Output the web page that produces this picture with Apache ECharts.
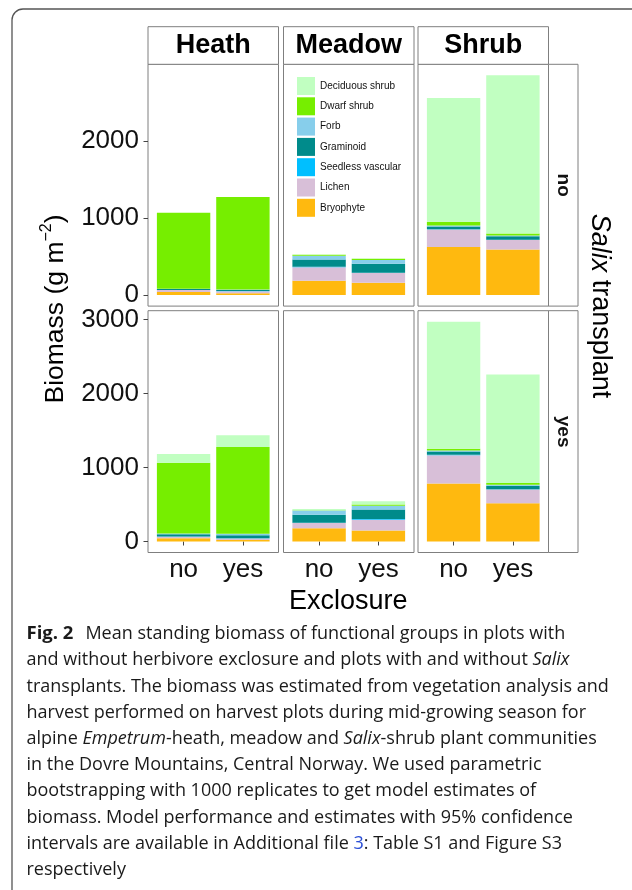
<!DOCTYPE html>
<html><head><meta charset="utf-8">
<script src="https://cdn.jsdelivr.net/npm/echarts@6/dist/echarts.min.js"></script>
<style>html,body{margin:0;padding:0;background:#fff}#c{width:632px;height:890px}</style>
</head><body><div id="c"></div>
<script>
// ---- data ----
const exclosure = ['no', 'yes'];
const communities = ['Heath', 'Meadow', 'Shrub'];
const transplant = ['no', 'yes'];
// stacking order, bottom to top
const groups = ['Bryophyte', 'Lichen', 'Seedless vascular', 'Graminoid', 'Forb', 'Dwarf shrub', 'Deciduous shrub'];
const legendOrder = ['Deciduous shrub', 'Dwarf shrub', 'Forb', 'Graminoid', 'Seedless vascular', 'Lichen', 'Bryophyte'];
// 12 bars: transplant no -> [Heath no, Heath yes, Meadow no, Meadow yes, Shrub no, Shrub yes], then transplant yes (same order)
const bryophyte       = [40, 25, 185, 160, 622, 592,   45, 22, 180, 149, 785, 518];
const lichen          = [25, 25, 177, 125, 229, 121,   18, 18, 70, 144, 383, 185];
const seedless        = [2, 2, 5, 5, 3, 3,             5, 5, 5, 13, 5, 5];
const graminoid       = [12, 15, 95, 117, 35, 48,      31, 41, 108, 126, 45, 45];
const forb            = [5, 5, 48, 48, 12, 10,         10, 18, 55, 50, 13, 15];
const dwarfShrub      = [985, 1198, 12, 15, 50, 26,    956, 1175, 5, 18, 23, 23];
const deciduousShrub  = [0, 0, 3, 5, 1605, 2049,       117, 158, 18, 45, 1719, 1469];
const yTicksRowNo  = [0, 1000, 2000];
const yTicksRowYes = [0, 1000, 2000, 3000];

const groupValues = [bryophyte, lichen, seedless, graminoid, forb, dwarfShrub, deciduousShrub];
const groupColors = ['#FFB90F', '#D8BFD8', '#00BFFF', '#008B8B', '#87CEEB', '#76EE00', '#C1FFC1'];

// ---- layout ----
const colLeft = [148, 283.5, 418];
const colWidth = 130.5;
const rowTop = [64.3, 310.7];
const rowHeight = 241.8;
const FONT = 'Liberation Sans';
const frameGrey = '#7f7f7f';

// row maxima -> ggplot-like 5% expansion
const rowMax = [0, 1].map(r => {
  let m = 0;
  for (let i = 0; i < 6; i++) {
    let s = 0;
    groupValues.forEach(a => { s += a[r * 6 + i]; });
    m = Math.max(m, s);
  }
  return m;
});

const grids = [], xAxes = [], yAxes = [], series = [];
for (let r = 0; r < 2; r++) {
  for (let c = 0; c < 3; c++) {
    const g = r * 3 + c;
    grids.push({ left: colLeft[c], top: rowTop[r], width: colWidth, height: rowHeight,
      show: true, borderColor: frameGrey, borderWidth: 1, backgroundColor: '#fff', containLabel: false });
    xAxes.push({
      type: 'value', gridIndex: g, min: 0.4, max: 2.6,
      axisLine: { show: false }, splitLine: { show: false },
      axisTick: { show: r === 1, customValues: [1, 2], length: 4, lineStyle: { color: '#444', width: 1 } },
      axisLabel: { show: r === 1, customValues: [1, 2], formatter: v => exclosure[Math.round(v) - 1],
        fontSize: 26, color: '#111', fontFamily: FONT, margin: 4 }
    });
    const ticks = r === 0 ? yTicksRowNo : yTicksRowYes;
    yAxes.push({
      type: 'value', gridIndex: g, min: -0.05 * rowMax[r], max: 1.05 * rowMax[r],
      axisLine: { show: false }, splitLine: { show: false },
      axisTick: { show: c === 0, customValues: ticks, length: 4.5, lineStyle: { color: '#444', width: 1 } },
      axisLabel: { show: c === 0, customValues: ticks, formatter: v => String(v),
        fontSize: 26, color: '#111', fontFamily: FONT, margin: 9 }
    });
    const barW = colWidth / 2.2 * 0.9;
    groups.forEach((name, k) => {
      const arr = groupValues[k];
      series.push({
        type: 'bar', name, xAxisIndex: g, yAxisIndex: g, stack: 'p' + g,
        barWidth: barW,
        encode: { x: 1, y: 0 },
        itemStyle: { color: groupColors[k] },
        emphasis: { disabled: true },
        data: [[arr[r * 6 + c * 2], 1], [arr[r * 6 + c * 2 + 1], 2]]
      });
    });
  }
}

const graphics = [];
// outer frame
graphics.push({ type: 'rect', shape: { x: 12, y: 9, width: 700, height: 1000, r: 11 },
  style: { fill: 'none', stroke: '#555', lineWidth: 1.3 }, z: 0, silent: true });
// strip headers
communities.forEach((name, c) => {
  graphics.push({ type: 'rect', shape: { x: colLeft[c], y: 26.7, width: colWidth, height: 37.6 },
    style: { fill: '#fff', stroke: frameGrey, lineWidth: 1 }, z: 10, silent: true });
  graphics.push({ type: 'text', x: colLeft[c] + colWidth / 2, y: 46, z: 11, silent: true,
    style: { text: name, fontSize: 27, fontWeight: 'bold', fontFamily: FONT, fill: '#000',
      align: 'center', verticalAlign: 'middle' } });
});
// right strips
transplant.forEach((name, r) => {
  graphics.push({ type: 'rect', shape: { x: 548.5, y: rowTop[r], width: 29.5, height: rowHeight },
    style: { fill: '#fff', stroke: frameGrey, lineWidth: 1 }, z: 10, silent: true });
  graphics.push({ type: 'text', x: 563.3, y: rowTop[r] + rowHeight / 2, rotation: -Math.PI / 2, z: 11, silent: true,
    style: { text: name, fontSize: 19, fontWeight: 'bold', fontFamily: FONT, fill: '#111',
      align: 'center', verticalAlign: 'middle' } });
});
// facet title right
graphics.push({ type: 'text', x: 600, y: 306, rotation: -Math.PI / 2, silent: true,
  style: { text: '{it|Salix} transplant', fontSize: 27, fontFamily: FONT, fill: '#000',
    align: 'center', verticalAlign: 'middle',
    rich: { it: { fontStyle: 'italic', fontSize: 27, fontFamily: FONT, fill: '#000' } } } });
// y title
graphics.push({ type: 'text', x: 56, y: 309, rotation: Math.PI / 2, silent: true,
  style: { text: '{m|Biomass (g m}{s|\u22122}{m|)}', align: 'center', verticalAlign: 'middle',
    rich: {
      m: { fontSize: 26.5, lineHeight: 34, fontFamily: FONT, fill: '#000' },
      s: { fontSize: 16, lineHeight: 16, verticalAlign: 'top', fontFamily: FONT, fill: '#000' }
    } } });
// x title
graphics.push({ type: 'text', x: 348.3, y: 602, silent: true,
  style: { text: 'Exclosure', fontSize: 27, fontFamily: FONT, fill: '#000', align: 'center', verticalAlign: 'middle' } });

// caption
const captionLines = [
  '{b|Fig. 2}Mean standing biomass of functional groups in plots with',
  'and without herbivore exclosure and plots with and without {i|Salix}',
  'transplants. The biomass was estimated from vegetation analysis and',
  'harvest performed on harvest plots during mid-growing season for',
  'alpine {i|Empetrum}-heath, meadow and {i|Salix}-shrub plant communities',
  'in the Dovre Mountains, Central Norway. We used parametric',
  'bootstrapping with 1000 replicates to get model estimates of',
  'biomass. Model performance and estimates with 95% confidence',
  'intervals are available in Additional file {l|3}: Table S1 and Figure S3',
  'respectively'
];
const CAP = 'Open Sans';
captionLines.forEach((t, i) => {
  graphics.push({ type: 'text', x: 26.5, y: 634 + i * 26.2, scaleX: 1.0, silent: true,
    style: { text: t, fontSize: 18, fontFamily: CAP, fill: '#1a1a1a', align: 'left', verticalAlign: 'middle',
      rich: {
        b: { fontWeight: 'bold', fontSize: 18.5, fontFamily: CAP, fill: '#1a1a1a', padding: [0, 12, 0, 0] },
        i: { fontStyle: 'italic', fontSize: 18, fontFamily: CAP, fill: '#1a1a1a' },
        l: { fontSize: 18, fontFamily: CAP, fill: '#2b4fd6' }
      } } });
});

const chart = echarts.init(document.getElementById('c'), null, { renderer: 'canvas' });
chart.setOption({
  animation: false,
  backgroundColor: '#fff',
  textStyle: { fontFamily: FONT },
  grid: grids, xAxis: xAxes, yAxis: yAxes, series,
  legend: {
    data: legendOrder, orient: 'vertical', left: 297, top: 77, padding: 0,
    itemWidth: 18, itemHeight: 18, itemGap: 2.3, icon: 'rect', selectedMode: false,
    textStyle: { fontSize: 10, color: '#111', fontFamily: FONT },
    z: 20
  },
  graphic: graphics
});
</script>
</body></html>
